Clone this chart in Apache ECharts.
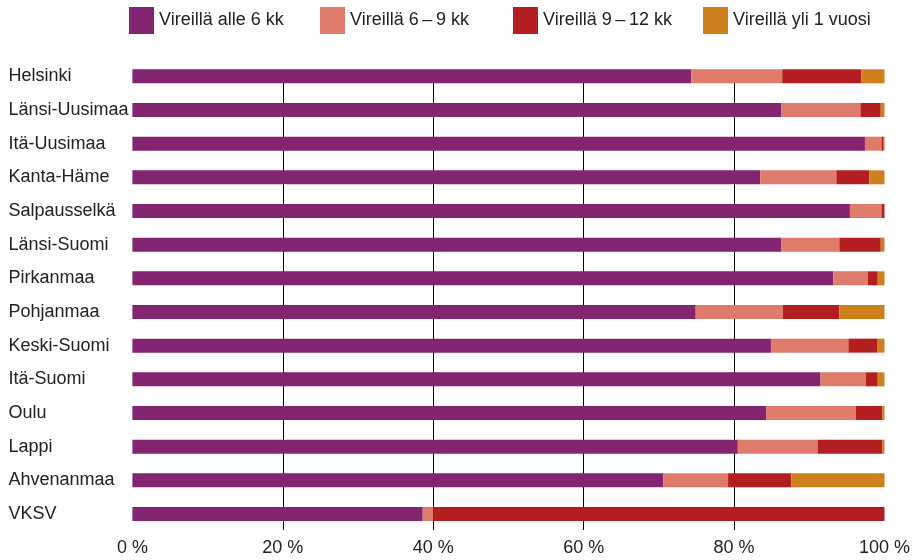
<!DOCTYPE html>
<html>
<head>
<meta charset="utf-8">
<script src="https://cdn.jsdelivr.net/npm/echarts@6/dist/echarts.min.js"></script>
<style>html,body{margin:0;padding:0;background:#fff}#c{width:917px;height:560px}</style>
</head>
<body>
<div id="c"></div>
<script>
const categories = ["Helsinki","Länsi-Uusimaa","Itä-Uusimaa","Kanta-Häme","Salpausselkä","Länsi-Suomi","Pirkanmaa","Pohjanmaa","Keski-Suomi","Itä-Suomi","Oulu","Lappi","Ahvenanmaa","VKSV"];
const seriesNames = ["Vireillä alle 6 kk","Vireillä 6\u2009–\u20099 kk","Vireillä 9\u2009–\u200912 kk","Vireillä yli 1 vuosi"];
const under6 =   [74.3, 86.3, 97.4, 83.5, 95.4, 86.3, 93.2, 74.9, 84.9, 91.5, 84.3, 80.5, 70.6, 38.6];
const m6to9 =    [12.1, 10.5,  2.2, 10.1,  4.2,  7.7,  4.6, 11.6, 10.3,  6.0, 11.9, 10.6,  8.6,  1.4];
const m9to12 =   [10.5,  2.7,  0.3,  4.4,  0.4,  5.5,  1.3,  7.5,  3.8,  1.6,  3.5,  8.6,  8.4, 60.0];
const over1y =   [ 3.1,  0.5,  0.1,  2.0,  0.0,  0.5,  0.9,  6.0,  1.0,  0.9,  0.3,  0.3, 12.4,  0.0];
const tickValues = [0, 20, 40, 60, 80, 100];

const colors = ["#822470", "#DF7B6B", "#B31F21", "#CE801F"];
const font = "'Liberation Sans', Arial, sans-serif";
const values = [under6, m6to9, m9to12, over1y];
const legendLeft = [129, 320, 513, 703];

const chart = echarts.init(document.getElementById('c'), null, {renderer: 'canvas'});
chart.setOption({
  animation: false,
  textStyle: {fontFamily: font},
  legend: seriesNames.map((n, i) => ({
    left: legendLeft[i], top: 7, padding: 0,
    itemWidth: 25, itemHeight: 27,
    icon: 'rect',
    textStyle: {fontFamily: font, fontSize: 18, color: '#222'},
    data: [n]
  })),
  grid: [
    {left: 132.4, right: 32.5, top: 59.5, bottom: 29.2},
    {left: 132.4, right: 32.5, top: 70, bottom: 30}
  ],
  xAxis: [
    {
      gridIndex: 0, type: 'value', min: 0, max: 100, interval: 20,
      axisLine: {show: false}, axisTick: {show: false}, splitLine: {show: false},
      axisLabel: {fontFamily: font, fontSize: 18, color: '#222', margin: 8,
        formatter: v => tickValues.includes(v) ? v + ' %' : ''}
    },
    {
      gridIndex: 1, type: 'value', min: 0, max: 100, interval: 20,
      axisLine: {show: false}, axisTick: {show: false}, axisLabel: {show: false},
      splitLine: {show: true, showMinLine: false, showMaxLine: false, lineStyle: {color: '#000', width: 1}}
    }
  ],
  yAxis: [
    {
      gridIndex: 0, type: 'category', data: categories, inverse: true,
      axisLine: {show: false}, axisTick: {show: false},
      axisLabel: {fontFamily: font, fontSize: 18, color: '#222', align: 'left', margin: 124}
    },
    {gridIndex: 1, type: 'category', data: categories, inverse: true, show: false}
  ],
  series: seriesNames.map((n, i) => ({
    name: n, type: 'bar', stack: 'total', xAxisIndex: 0, yAxisIndex: 0,
    barWidth: 14, itemStyle: {color: colors[i]},
    data: values[i], z: 3
  }))
});
</script>
</body>
</html>
